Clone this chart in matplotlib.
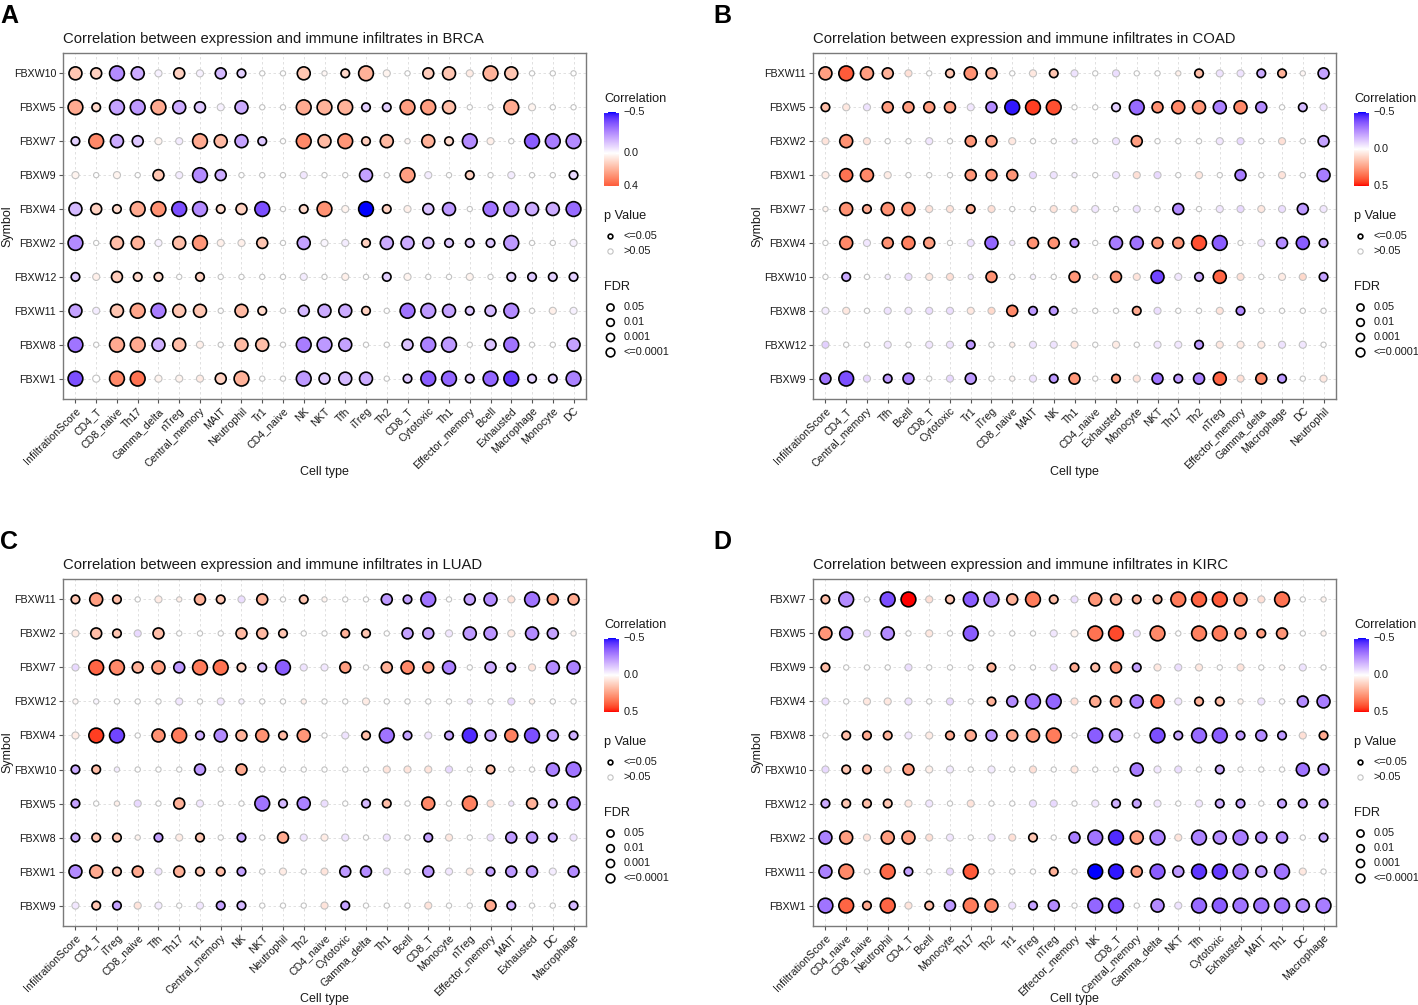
import numpy as np
import matplotlib
matplotlib.use("Agg")
import matplotlib.pyplot as plt

plt.rcParams['font.family'] = ['Liberation Sans', 'DejaVu Sans']

# ---------------- DATA ----------------
# lvl: 0 = p>0.05 (tiny), 1 = p>0.05 (larger), 2..5 = p<=0.05 with increasing -log10(FDR)
brca_rows = ["FBXW10", "FBXW5", "FBXW7", "FBXW9", "FBXW4", "FBXW2", "FBXW12", "FBXW11", "FBXW8", "FBXW1"]
brca_cols = ["InfiltrationScore", "CD4_T", "CD8_naive", "Th17", "Gamma_delta", "nTreg", "Central_memory",
             "MAIT", "Neutrophil", "Tr1", "CD4_naive", "NK", "NKT", "Tfh", "iTreg", "Th2", "CD8_T",
             "Cytotoxic", "Th1", "Effector_memory", "Bcell", "Exhausted", "Macrophage", "Monocyte", "DC"]
brca_lim = (-0.5, 0.4)
brca_corr = [
    [0.15, 0.12, -0.25, -0.18, -0.03, 0.12, -0.03, -0.15, -0.10, 0, 0, 0.15, 0.02, 0.10, 0.20, 0.03, 0, 0.13, 0.15, 0.05, 0.20, 0.15, 0, 0, 0],
    [0.22, 0.10, -0.20, -0.22, 0.22, -0.18, -0.12, -0.03, -0.18, 0, 0, 0.22, 0.20, 0.20, -0.10, -0.10, 0.25, 0.25, 0.17, 0, 0, 0.22, 0.03, 0, 0],
    [-0.10, 0.30, -0.18, -0.12, 0.03, -0.04, 0.22, 0.18, -0.20, -0.12, 0, 0.30, 0.18, 0.27, 0.13, 0.18, 0.02, 0.20, 0.10, -0.25, 0.04, 0, -0.35, -0.28, -0.25],
    [0.03, 0, 0.03, 0, 0.15, -0.04, -0.25, -0.18, 0, 0, 0, -0.05, 0, 0, -0.20, 0, 0.25, -0.04, 0, 0.12, 0, -0.04, 0, 0, -0.08],
    [-0.15, 0.12, 0.10, 0.22, 0.28, -0.38, -0.25, 0.10, 0.12, -0.38, 0, 0.10, 0.28, 0.03, -0.50, 0.12, 0.04, -0.13, -0.22, 0, -0.30, -0.25, -0.18, -0.18, -0.32],
    [-0.25, 0, 0.17, 0.20, -0.03, 0.17, 0.27, 0.04, 0.04, 0.15, 0, -0.20, -0.02, -0.04, 0.12, -0.18, -0.18, -0.14, -0.12, -0.10, -0.12, -0.22, 0, 0, -0.03],
    [-0.12, 0.04, 0.13, 0.10, 0.10, 0, 0.12, 0, 0, 0, 0, -0.04, 0, 0.04, 0, -0.10, 0.03, 0, 0, 0.03, 0, -0.10, -0.12, -0.10, -0.10],
    [-0.20, -0.04, 0.15, 0.23, -0.28, 0.15, 0.15, 0, 0.18, 0.10, 0, -0.15, -0.18, -0.18, 0.12, 0, -0.30, -0.22, -0.20, -0.12, -0.15, -0.25, 0, 0.04, -0.03],
    [-0.30, 0, 0.22, 0.22, -0.17, 0.17, 0.04, 0, 0.18, 0.17, 0, -0.28, -0.22, -0.20, 0, 0, -0.13, -0.27, -0.22, 0, -0.13, -0.30, 0, 0, -0.20],
    [-0.38, 0, 0.30, 0.35, 0.03, 0.03, 0.05, 0.12, 0.20, 0, 0, -0.22, -0.12, -0.15, -0.18, 0, -0.12, -0.35, -0.33, -0.10, -0.33, -0.42, -0.10, -0.10, -0.27],
]
brca_lvl = [
    [4, 3, 5, 4, 1, 3, 1, 3, 2, 0, 0, 4, 0, 2, 5, 1, 0, 3, 4, 1, 5, 4, 0, 0, 0],
    [5, 2, 5, 5, 5, 4, 3, 1, 4, 0, 0, 5, 5, 5, 2, 2, 5, 5, 4, 0, 0, 5, 1, 0, 0],
    [2, 5, 4, 3, 1, 1, 5, 4, 4, 2, 0, 5, 4, 5, 2, 4, 0, 4, 2, 5, 1, 0, 5, 5, 5],
    [1, 0, 1, 0, 3, 1, 5, 3, 0, 0, 0, 1, 0, 0, 4, 0, 5, 1, 0, 2, 0, 1, 0, 0, 2],
    [4, 3, 2, 5, 5, 5, 5, 2, 3, 5, 0, 2, 5, 1, 5, 2, 1, 3, 4, 0, 5, 5, 4, 4, 5],
    [5, 0, 4, 4, 1, 4, 5, 1, 1, 3, 0, 4, 1, 1, 2, 4, 4, 3, 2, 2, 2, 5, 0, 0, 1],
    [2, 1, 3, 2, 2, 0, 2, 0, 0, 0, 0, 1, 0, 1, 0, 2, 1, 0, 0, 1, 0, 2, 2, 2, 2],
    [4, 1, 4, 5, 5, 4, 4, 0, 4, 2, 0, 3, 4, 4, 2, 0, 5, 5, 4, 2, 3, 5, 0, 1, 1],
    [5, 0, 5, 5, 4, 4, 1, 0, 4, 4, 0, 5, 5, 4, 0, 0, 3, 5, 5, 0, 3, 5, 0, 0, 4],
    [5, 1, 5, 5, 1, 1, 1, 3, 5, 0, 0, 5, 3, 4, 4, 0, 2, 5, 5, 2, 5, 5, 2, 2, 5],
]

coad_rows = ["FBXW11", "FBXW5", "FBXW2", "FBXW1", "FBXW7", "FBXW4", "FBXW10", "FBXW8", "FBXW12", "FBXW9"]
coad_cols = ["InfiltrationScore", "CD4_T", "Central_memory", "Tfh", "Bcell", "CD8_T", "Cytotoxic", "Tr1",
             "iTreg", "CD8_naive", "MAIT", "NK", "Th1", "CD4_naive", "Exhausted", "Monocyte", "NKT", "Th17",
             "Th2", "nTreg", "Effector_memory", "Gamma_delta", "Macrophage", "DC", "Neutrophil"]
coad_lim = (-0.5, 0.5)
coad_corr = [
    [0.25, 0.40, 0.25, 0.20, 0.08, 0, 0.15, 0.28, 0.20, 0, 0.06, 0.15, -0.06, 0, -0.07, 0, 0, 0.04, 0.17, -0.06, -0.06, -0.18, 0.20, 0.02, -0.20],
    [0.17, 0.06, -0.06, 0.25, 0.25, 0.25, 0.25, -0.05, -0.25, -0.48, 0.45, 0.42, 0, 0, -0.10, -0.32, 0.28, 0.30, 0.27, -0.27, 0.30, -0.25, 0, -0.15, -0.06],
    [0.07, 0.28, 0.07, 0, 0, -0.05, 0, 0.27, 0.25, 0.06, 0, 0, -0.03, 0, -0.06, 0.25, 0, 0, 0, -0.05, -0.08, 0, 0.08, 0, -0.20],
    [0.05, 0.35, 0.30, 0.05, 0, 0, 0, 0.27, 0.27, 0.27, -0.08, -0.06, -0.03, 0, -0.06, 0.08, -0.08, 0, 0.06, 0, -0.28, 0, 0.07, 0, -0.28],
    [0.03, 0.28, 0.22, 0.28, 0.28, 0.07, 0.07, 0.22, 0.08, 0, 0, 0.07, 0.07, -0.05, 0, -0.06, 0, -0.25, 0, -0.05, -0.08, 0.06, -0.07, -0.22, -0.05],
    [0, 0.30, -0.05, 0.28, 0.32, 0.25, 0, -0.06, -0.33, -0.04, 0.28, 0.28, -0.25, 0, -0.28, -0.30, 0.27, 0.27, 0.42, -0.35, 0, -0.05, -0.25, -0.35, -0.20],
    [0, -0.18, 0, -0.04, -0.07, 0.06, 0.08, -0.04, 0.28, 0, -0.03, 0, 0.27, 0.03, 0.28, 0.07, -0.40, -0.05, -0.18, 0.38, 0.08, 0, 0.05, 0.10, -0.20],
    [-0.04, 0.06, 0, -0.06, -0.05, -0.07, -0.07, 0.06, 0.10, 0.30, -0.22, -0.22, 0, 0, 0, 0.22, -0.07, 0, 0, 0.07, -0.25, 0, 0, 0, 0],
    [-0.10, 0, 0, -0.05, 0, -0.05, -0.06, -0.22, 0, 0.04, -0.06, -0.06, 0.06, 0, 0.05, 0, -0.05, -0.05, -0.22, 0.06, 0.05, 0.05, -0.06, -0.05, 0],
    [-0.30, -0.38, -0.08, -0.22, -0.27, 0, -0.08, -0.22, 0, 0.02, -0.06, -0.22, 0.27, 0, 0.25, 0.07, -0.30, -0.22, -0.27, 0.38, 0.08, 0.30, -0.22, 0, 0.06],
]
coad_lvl = [
    [4, 5, 4, 3, 1, 0, 2, 4, 3, 0, 1, 2, 1, 0, 1, 0, 0, 0, 2, 1, 1, 2, 2, 0, 3],
    [2, 1, 1, 3, 3, 3, 3, 1, 3, 5, 5, 5, 0, 0, 2, 5, 3, 4, 4, 4, 4, 3, 0, 2, 1],
    [1, 4, 1, 0, 0, 1, 0, 3, 3, 1, 0, 0, 0, 0, 1, 3, 0, 0, 0, 1, 1, 0, 1, 0, 3],
    [1, 4, 4, 1, 0, 0, 0, 3, 3, 3, 1, 1, 0, 0, 1, 1, 1, 0, 1, 0, 3, 0, 1, 0, 4],
    [0, 4, 2, 4, 4, 1, 1, 2, 1, 0, 0, 1, 1, 1, 0, 1, 0, 3, 0, 1, 1, 1, 1, 3, 1],
    [0, 4, 1, 3, 4, 3, 0, 1, 4, 0, 3, 3, 2, 0, 4, 4, 3, 3, 5, 5, 0, 1, 3, 4, 2],
    [0, 2, 0, 0, 1, 1, 1, 0, 3, 0, 0, 0, 3, 0, 3, 1, 4, 1, 2, 4, 1, 0, 1, 1, 2],
    [1, 1, 0, 1, 1, 1, 1, 1, 1, 3, 2, 2, 0, 0, 0, 2, 1, 0, 0, 1, 2, 0, 0, 0, 0],
    [1, 0, 0, 1, 0, 1, 1, 2, 0, 0, 1, 1, 1, 0, 1, 0, 1, 1, 2, 1, 1, 1, 1, 1, 0],
    [3, 5, 1, 2, 3, 0, 1, 3, 0, 0, 1, 2, 3, 0, 2, 1, 3, 2, 3, 4, 1, 3, 2, 0, 1],
]

luad_rows = ["FBXW11", "FBXW2", "FBXW7", "FBXW12", "FBXW4", "FBXW10", "FBXW5", "FBXW8", "FBXW1", "FBXW9"]
luad_cols = ["InfiltrationScore", "CD4_T", "iTreg", "CD8_naive", "Tfh", "Th17", "Tr1", "Central_memory",
             "NK", "NKT", "Neutrophil", "Th2", "CD4_naive", "Cytotoxic", "Gamma_delta", "Th1", "Bcell",
             "CD8_T", "Monocyte", "nTreg", "Effector_memory", "MAIT", "Exhausted", "DC", "Macrophage"]
luad_lim = (-0.5, 0.5)
luad_corr = [
    [0.15, 0.25, 0.17, 0, 0.05, 0.04, 0.20, 0.15, -0.07, 0.20, 0, 0.15, 0.03, 0, 0, -0.22, -0.20, -0.30, 0, -0.20, -0.25, 0.07, -0.30, 0.25, 0.22],
    [0.05, 0.17, 0.15, -0.08, 0.17, 0, 0, 0, 0.18, 0.18, 0.15, 0, 0, 0.20, 0.15, 0, -0.20, -0.20, -0.05, -0.22, -0.23, 0.05, -0.25, -0.20, 0.03],
    [-0.08, 0.38, 0.30, 0.20, 0.25, -0.22, 0.33, 0.35, 0.13, -0.15, -0.35, -0.06, -0.05, 0.25, 0, 0.20, 0.30, 0.25, -0.27, 0, -0.18, -0.15, 0.07, -0.25, -0.27],
    [0.02, -0.02, 0, 0, 0, -0.05, 0, -0.05, -0.03, 0, 0, 0.04, 0, 0, 0.05, 0, 0, 0, 0, -0.04, 0, -0.08, 0.03, 0, 0],
    [0.05, 0.45, -0.40, 0, 0.28, 0.33, -0.17, -0.25, 0.20, 0.28, 0.18, 0.27, 0, -0.06, 0.17, -0.30, -0.20, -0.05, -0.20, -0.45, -0.20, 0.32, -0.38, -0.20, -0.17],
    [-0.18, 0.17, -0.04, 0, 0, 0, -0.22, 0, 0.22, 0, 0, 0, 0, 0, 0, 0.07, 0.07, 0.07, -0.08, 0, 0.18, 0, 0, -0.27, -0.30],
    [-0.20, 0, 0.04, -0.08, 0, 0.20, -0.05, 0, 0, -0.30, -0.15, -0.27, -0.07, 0, -0.15, 0.17, 0, 0.30, 0, 0.32, 0.08, -0.05, 0.20, -0.15, -0.28],
    [-0.18, 0.15, 0.15, 0.03, -0.20, 0.05, 0.15, 0, -0.20, 0, 0.22, -0.06, 0.05, -0.06, 0, -0.06, 0, -0.20, 0.06, 0, -0.06, -0.22, -0.22, -0.20, -0.06],
    [-0.25, 0.22, 0.15, 0.22, -0.05, 0.20, 0.15, 0.17, -0.20, 0, 0.05, 0, 0.07, -0.22, -0.25, -0.06, 0, -0.22, -0.05, 0.05, -0.20, -0.22, -0.22, -0.04, -0.25],
    [-0.05, 0.15, -0.20, 0.07, -0.04, 0, -0.05, -0.20, -0.15, 0, 0, 0, 0.07, -0.20, 0, 0, 0, 0.07, 0, 0, 0.22, -0.17, 0, 0, -0.15],
]
luad_lvl = [
    [2, 4, 2, 0, 1, 0, 3, 2, 1, 3, 0, 2, 0, 0, 0, 3, 2, 5, 0, 3, 4, 1, 5, 3, 3],
    [1, 3, 2, 1, 3, 0, 0, 0, 3, 3, 2, 0, 0, 2, 2, 0, 3, 3, 1, 4, 4, 1, 4, 3, 0],
    [1, 5, 5, 3, 4, 3, 5, 5, 2, 2, 5, 1, 1, 3, 0, 3, 4, 3, 4, 0, 3, 2, 1, 4, 4],
    [0, 0, 0, 0, 0, 1, 0, 1, 0, 0, 0, 0, 0, 0, 1, 0, 0, 0, 0, 0, 0, 1, 0, 0, 0],
    [1, 5, 5, 0, 4, 5, 2, 4, 3, 4, 2, 4, 0, 1, 2, 5, 2, 1, 2, 5, 3, 4, 5, 3, 2],
    [2, 2, 0, 0, 0, 0, 3, 0, 3, 0, 0, 0, 0, 0, 0, 1, 1, 1, 1, 0, 2, 0, 0, 4, 5],
    [2, 0, 0, 1, 0, 3, 1, 0, 0, 5, 2, 4, 1, 0, 2, 2, 0, 4, 0, 5, 1, 0, 3, 2, 4],
    [2, 2, 2, 0, 2, 1, 2, 0, 2, 0, 3, 1, 1, 1, 0, 1, 0, 2, 1, 0, 1, 3, 3, 2, 1],
    [4, 4, 2, 3, 1, 3, 2, 2, 2, 0, 1, 0, 1, 3, 3, 1, 0, 3, 1, 1, 2, 3, 3, 1, 3],
    [1, 2, 2, 1, 1, 0, 1, 2, 2, 0, 0, 0, 1, 2, 0, 0, 0, 1, 0, 0, 3, 2, 0, 0, 2],
]

kirc_rows = ["FBXW7", "FBXW5", "FBXW9", "FBXW4", "FBXW8", "FBXW10", "FBXW12", "FBXW2", "FBXW11", "FBXW1"]
kirc_cols = ["InfiltrationScore", "CD4_naive", "CD8_naive", "Neutrophil", "CD4_T", "Bcell", "Monocyte",
             "Th17", "Th2", "Tr1", "iTreg", "nTreg", "Effector_memory", "NK", "CD8_T", "Central_memory",
             "Gamma_delta", "NKT", "Tfh", "Cytotoxic", "Exhausted", "MAIT", "Th1", "DC", "Macrophage"]
kirc_lim = (-0.5, 0.5)
kirc_corr = [
    [0.17, -0.25, 0, -0.38, 0.50, 0.08, 0.15, -0.35, -0.27, 0.20, 0.33, 0.17, -0.07, 0.27, 0.22, 0.20, 0.20, 0.33, 0.38, 0.40, 0.30, 0.08, 0.35, 0, 0.03],
    [0.27, -0.25, -0.07, -0.25, 0, 0.06, 0, -0.35, 0, 0, 0, -0.05, 0.03, 0.35, 0.43, -0.06, 0.30, 0, 0.32, 0.33, 0.27, 0.25, 0.27, 0, 0.03],
    [0.17, 0, 0, 0, -0.07, 0, 0, 0, 0.20, 0, 0, -0.07, 0.22, 0.17, 0.28, -0.20, 0.06, -0.07, 0.06, 0, 0.07, 0, 0.02, -0.06, 0],
    [-0.07, 0, 0.06, 0.06, -0.06, 0, -0.08, 0, 0.20, -0.25, -0.30, -0.33, 0.08, 0.22, 0.25, -0.28, 0.35, -0.05, 0.20, 0.17, 0.03, -0.06, 0, -0.25, -0.28],
    [0, 0.17, 0.22, 0.20, -0.05, 0.05, 0.22, 0.22, -0.22, 0.22, 0.27, 0.33, 0, -0.35, -0.25, 0, -0.38, -0.20, -0.32, -0.35, -0.22, -0.25, -0.22, 0.08, 0.22],
    [-0.08, 0.15, 0.20, 0.06, 0.25, 0.04, -0.04, 0, -0.04, 0, 0.08, 0, 0.06, 0, 0, -0.28, -0.05, -0.07, 0, -0.18, 0, 0, 0, -0.30, -0.25],
    [-0.18, 0.15, 0.17, 0.15, 0.06, -0.05, 0, 0.07, 0, 0, -0.07, -0.08, 0, -0.05, -0.17, -0.20, -0.05, 0, -0.05, -0.18, -0.20, 0, -0.20, -0.20, -0.20],
    [-0.27, 0.25, 0.07, 0.25, 0.25, 0.08, -0.05, 0, -0.05, 0.08, 0.15, 0, -0.28, -0.30, -0.45, 0.25, -0.27, 0.07, -0.27, -0.25, -0.28, -0.25, -0.25, 0, -0.20],
    [-0.27, 0.30, 0, 0.37, -0.20, 0, -0.08, 0.40, 0, 0, 0, 0.20, 0, -0.50, -0.48, 0.25, -0.35, -0.22, -0.43, -0.42, -0.30, -0.22, -0.30, 0.06, 0],
    [-0.30, 0.38, 0.22, 0.38, 0.07, 0.17, -0.22, 0.33, 0.30, -0.06, -0.20, -0.25, 0, -0.33, -0.38, 0, -0.25, -0.06, -0.32, -0.35, -0.30, -0.30, -0.30, -0.25, -0.28],
]
kirc_lvl = [
    [2, 5, 0, 5, 5, 1, 2, 5, 5, 3, 5, 2, 1, 4, 3, 2, 2, 5, 5, 5, 4, 1, 5, 0, 0],
    [4, 4, 1, 4, 0, 1, 0, 5, 0, 0, 0, 1, 1, 5, 5, 1, 5, 0, 5, 5, 3, 2, 3, 0, 0],
    [2, 0, 0, 0, 1, 0, 0, 0, 2, 0, 0, 1, 2, 2, 3, 2, 1, 1, 1, 0, 1, 0, 0, 1, 0],
    [1, 0, 1, 1, 1, 0, 1, 0, 2, 3, 5, 5, 1, 3, 3, 4, 4, 1, 2, 2, 0, 1, 0, 3, 4],
    [0, 2, 2, 2, 1, 1, 2, 3, 3, 3, 4, 5, 0, 5, 4, 0, 5, 2, 5, 5, 2, 3, 2, 1, 2],
    [1, 2, 2, 1, 3, 1, 1, 0, 1, 0, 1, 0, 1, 0, 0, 4, 1, 1, 0, 2, 0, 0, 0, 4, 3],
    [2, 2, 2, 2, 1, 1, 0, 1, 0, 0, 1, 1, 0, 1, 2, 2, 1, 0, 1, 2, 2, 0, 2, 2, 2],
    [4, 4, 1, 4, 4, 1, 1, 0, 1, 1, 2, 0, 3, 5, 5, 4, 5, 1, 5, 4, 5, 3, 3, 0, 2],
    [4, 5, 0, 5, 2, 0, 1, 5, 0, 0, 0, 2, 0, 5, 5, 3, 5, 3, 5, 5, 5, 3, 5, 1, 0],
    [5, 5, 2, 5, 1, 2, 3, 5, 4, 1, 2, 3, 0, 5, 5, 0, 4, 1, 5, 5, 5, 5, 5, 4, 5],
]

fdr_labels = ["0.05", "0.01", "0.001", "<=0.0001"]
p_labels = ["<=0.05", ">0.05"]

# ---------------- colour scale (ggplot gradient2 style, Lab interpolation) ----------------
_M = np.array([[0.4124564, 0.3575761, 0.1804375],
               [0.2126729, 0.7151522, 0.0721750],
               [0.0193339, 0.1191920, 0.9503041]])
_Minv = np.linalg.inv(_M)
_WN = np.array([0.95047, 1.0, 1.08883])


def rgb2lab(rgb):
    c = np.asarray(rgb, float)
    lin = np.where(c <= 0.04045, c / 12.92, ((c + 0.055) / 1.055) ** 2.4)
    xyz = _M @ lin / _WN
    d = 6 / 29
    f = np.where(xyz > d ** 3, np.cbrt(xyz), xyz / (3 * d * d) + 4 / 29)
    return np.array([116 * f[1] - 16, 500 * (f[0] - f[1]), 200 * (f[1] - f[2])])


def lab2rgb(lab):
    L, a, b = lab
    fy = (L + 16) / 116
    fx = fy + a / 500
    fz = fy - b / 200
    d = 6 / 29
    f = np.array([fx, fy, fz])
    xyz = np.where(f > d, f ** 3, 3 * d * d * (f - 4 / 29)) * _WN
    lin = np.clip(_Minv @ xyz, 0, 1)
    c = np.where(lin <= 0.0031308, 12.92 * lin, 1.055 * lin ** (1 / 2.4) - 0.055)
    return np.clip(c, 0, 1)


LAB_LOW = rgb2lab([0, 0, 1])
LAB_MID = rgb2lab([1, 1, 1])
LAB_HIGH = rgb2lab([1, 0, 0])


def corr_color(v, lim):
    m = max(abs(lim[0]), abs(lim[1]))
    t = np.clip(0.5 + v / (2 * m), 0, 1)
    if t < 0.5:
        u = t / 0.5
        lab = LAB_LOW + (LAB_MID - LAB_LOW) * u
    else:
        u = (t - 0.5) / 0.5
        lab = LAB_MID + (LAB_HIGH - LAB_MID) * u
    return lab2rgb(lab)


# ---------------- figure ----------------
W, H = 1418, 1005
fig = plt.figure(figsize=(W / 100, H / 100), dpi=100)

DIAM_PX = [6.4, 8.2, 10.2, 12.6, 14.6, 16.4]
LW_SIG = 1.2
LW_NS = 0.8


def msize(lvl, lw):
    d = DIAM_PX[lvl] * 0.72 - lw
    return d * d


panels = [
    dict(letter="A", name="BRCA", rows=brca_rows, cols=brca_cols, corr=brca_corr, lvl=brca_lvl, lim=brca_lim,
         box=(63, 53, 586, 399), dx=0, dy=0),
    dict(letter="B", name="COAD", rows=coad_rows, cols=coad_cols, corr=coad_corr, lvl=coad_lvl, lim=coad_lim,
         box=(813, 53, 1336, 399), dx=750, dy=0),
    dict(letter="C", name="LUAD", rows=luad_rows, cols=luad_cols, corr=luad_corr, lvl=luad_lvl, lim=luad_lim,
         box=(63, 579, 586, 926), dx=0, dy=526),
    dict(letter="D", name="KIRC", rows=kirc_rows, cols=kirc_cols, corr=kirc_corr, lvl=kirc_lvl, lim=kirc_lim,
         box=(813, 579, 1336, 926), dx=750, dy=526),
]

# overlay axes in pixel coordinates for legends / labels
ov = fig.add_axes([0, 0, 1, 1], zorder=5)
ov.patch.set_alpha(0)

TXT = "#1a1a1a"

for p in panels:
    x0, y0, x1, y1 = p["box"]
    ax = fig.add_axes([x0 / W, 1 - y1 / H, (x1 - x0) / W, (y1 - y0) / H])
    rows, cols = p["rows"], p["cols"]
    corr = np.array(p["corr"], float)
    lvl = np.array(p["lvl"], int)
    nr, nc = corr.shape
    for sig in (False, True):
        xs, ys, ss, fc = [], [], [], []
        for i in range(nr):
            for j in range(nc):
                if (lvl[i, j] >= 2) != sig:
                    continue
                xs.append(j)
                ys.append(i)
                ss.append(msize(lvl[i, j], LW_SIG if sig else LW_NS))
                fc.append(corr_color(corr[i, j], p["lim"]))
        ax.scatter(xs, ys, s=ss, c=fc, edgecolors="black" if sig else "#c2c2c2",
                   linewidths=LW_SIG if sig else LW_NS, zorder=3 if sig else 2)
    ax.set_xlim(-0.6, nc - 1 + 0.6)
    ax.set_ylim(nr - 1 + 0.6, -0.6)
    ax.set_xticks(range(nc))
    ax.set_xticklabels(cols, rotation=45, ha="right", rotation_mode="anchor", fontsize=7.7, color=TXT)
    ax.set_yticks(range(nr))
    ax.set_yticklabels(rows, fontsize=7.7, color=TXT)
    ax.tick_params(length=3, width=0.8, color="#555555", pad=2)
    ax.grid(True, linestyle=(0, (3, 3)), color="#dcdcdc", linewidth=0.6)
    ax.set_axisbelow(True)
    for sp in ax.spines.values():
        sp.set_color("#7a7a7a")
        sp.set_linewidth(1.0)

    dx, dy = p["dx"], p["dy"]
    lx = 0 if dx == 0 else 713
    # titles and labels
    ov.text(x0, y0 - 14, "Correlation between expression and immune infiltrates in " + p["name"],
            fontsize=10.7, ha="left", va="center", color=TXT)
    ov.text(lx, y0 - 37, p["letter"], fontsize=18, fontweight="bold", ha="left", va="center",
            color="black")
    ov.text((x0 + x1) / 2, y1 + 73, "Cell type", fontsize=9.0, ha="center", va="center", color=TXT)
    ov.text(dx + 7, (y0 + y1) / 2, "Symbol", fontsize=9.0, ha="center", va="center", rotation=90,
            color=TXT)

    # legend
    lo, hi = p["lim"]
    ov.text(dx + 604, dy + 99, "Correlation", fontsize=9.2, ha="left", va="center", color=TXT)
    cb_top, cb_bot = dy + 112, dy + 186
    vals = np.linspace(lo, hi, 120)
    grad = np.array([corr_color(v, p["lim"]) for v in vals])[:, None, :]
    ov.imshow(grad, extent=[dx + 604, dx + 619, cb_bot, cb_top], aspect="auto", interpolation="bilinear",
              zorder=1)
    for v in (lo, 0.0, hi):
        yy = cb_top + (v - lo) / (hi - lo) * (cb_bot - cb_top)
        lab = ("\u2212%.1f" % abs(v)) if v < 0 else ("%.1f" % v)
        ov.text(dx + 624, yy, lab, fontsize=7.8, ha="left", va="center", color=TXT)
        ov.plot([dx + 604, dx + 607], [yy, yy], color="white", lw=0.8, zorder=2)
        ov.plot([dx + 616, dx + 619], [yy, yy], color="white", lw=0.8, zorder=2)

    ov.text(dx + 604, dy + 216, "p Value", fontsize=9.2, ha="left", va="center", color=TXT)
    ov.scatter([dx + 610], [dy + 236], s=msize(0, LW_SIG), facecolors="white", edgecolors="black",
               linewidths=LW_SIG, zorder=3)
    ov.scatter([dx + 610], [dy + 251], s=msize(0, LW_NS), facecolors="white", edgecolors="#c2c2c2",
               linewidths=LW_NS, zorder=3)
    ov.text(dx + 624, dy + 236, p_labels[0], fontsize=7.8, ha="left", va="center", color=TXT)
    ov.text(dx + 624, dy + 251, p_labels[1], fontsize=7.8, ha="left", va="center", color=TXT)

    ov.text(dx + 604, dy + 287, "FDR", fontsize=9.2, ha="left", va="center", color=TXT)
    for k, (lab, d) in enumerate(zip(fdr_labels, [8.8, 9.3, 9.8, 10.4])):
        yy = dy + 307 + k * 15
        ov.scatter([dx + 610], [yy], s=(d * 0.72 - LW_SIG) ** 2, facecolors="white", edgecolors="black",
                   linewidths=LW_SIG, zorder=3)
        ov.text(dx + 624, yy, lab, fontsize=7.8, ha="left", va="center", color=TXT)

ov.set_xlim(0, W)
ov.set_ylim(H, 0)
ov.axis("off")

fig.savefig("out.png", dpi=100)
